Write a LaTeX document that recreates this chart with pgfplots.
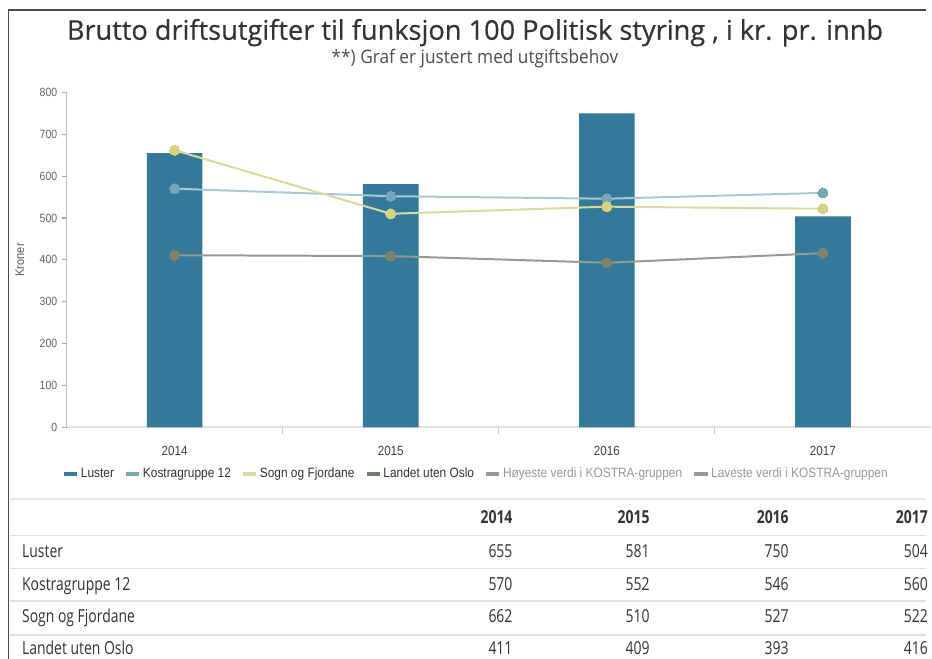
\documentclass[border=0pt]{standalone}
\usepackage{pgfplots}
\pgfplotsset{compat=1.18}
\usepackage{fontspec}
\setmainfont{Liberation Sans}
\newfontfamily\osans[FakeStretch=0.78]{Open Sans}
\newfontfamily\tsans[FakeBold=0.4]{Open Sans}
\newfontfamily\ssans[FakeStretch=0.93]{Open Sans}
\newfontfamily\lsans[FakeStretch=0.88]{Liberation Sans}
\definecolor{luster}{RGB}{53,121,154}
\definecolor{kostraL}{RGB}{168,200,214}
\definecolor{kostraM}{RGB}{120,165,185}
\definecolor{sognL}{RGB}{218,218,160}
\definecolor{sognM}{RGB}{214,210,130}
\definecolor{landetL}{RGB}{150,155,145}
\definecolor{landetM}{RGB}{128,131,108}
\definecolor{landetLeg}{RGB}{112,128,111}
\definecolor{txt}{RGB}{51,51,51}
\begin{document}
\begin{tikzpicture}
\begin{scope}[x=0.75pt,y=-0.75pt]
\useasboundingbox (0,0) rectangle (932,663);
\fill[white] (0,0) rectangle (932,663);
\draw[draw=black!70, line width=1.1pt] (8.5,663) -- (8.5,10) -- (932,10);
\node[anchor=base, text=txt, font=\tsans\fontsize{20.5}{25}\selectfont] at (478,40)
  {Brutto driftsutgifter til funksjon 100 Politisk styring , i kr. pr. innb};
\node[anchor=base, text=black!70, font=\ssans\fontsize{14}{16}\selectfont] at (478,64)
  {**) Graf er justert med utgiftsbehov};
% table
\draw[black!10, line width=1.5pt] (10,502) -- (932,502);
\foreach \yy in {539,572,605,639} \draw[black!12, line width=1.1pt] (10,\yy) -- (932,\yy);
\begin{scope}[every node/.style={font=\osans\fontsize{13.5}{16}\selectfont, text=txt, inner sep=0pt}]
\node[anchor=base east, font=\osans\bfseries\fontsize{13.5}{16}\selectfont] at (516,527) {2014};
\node[anchor=base east, font=\osans\bfseries\fontsize{13.5}{16}\selectfont] at (654,527) {2015};
\node[anchor=base east, font=\osans\bfseries\fontsize{13.5}{16}\selectfont] at (794,527) {2016};
\node[anchor=base east, font=\osans\bfseries\fontsize{13.5}{16}\selectfont] at (934,527) {2017};
\node[anchor=base west] at (22,561) {Luster};
\node[anchor=base east] at (516,561) {655};
\node[anchor=base east] at (654,561) {581};
\node[anchor=base east] at (794,561) {750};
\node[anchor=base east] at (934,561) {504};
\node[anchor=base west] at (22,594) {Kostragruppe 12};
\node[anchor=base east] at (516,594) {570};
\node[anchor=base east] at (654,594) {552};
\node[anchor=base east] at (794,594) {546};
\node[anchor=base east] at (934,594) {560};
\node[anchor=base west] at (22,627) {Sogn og Fjordane};
\node[anchor=base east] at (516,627) {662};
\node[anchor=base east] at (654,627) {510};
\node[anchor=base east] at (794,627) {527};
\node[anchor=base east] at (934,627) {522};
\node[anchor=base west] at (22,659) {Landet uten Oslo};
\node[anchor=base east] at (516,659) {411};
\node[anchor=base east] at (654,659) {409};
\node[anchor=base east] at (794,659) {393};
\node[anchor=base east] at (934,659) {416};
\end{scope}
\end{scope}
\begin{axis}[
  scale only axis, width=652.5pt, height=252.75pt,
  at={(50.25pt,-322.5pt)}, anchor=south west,
  xmin=-0.5, xmax=3.5, ymin=0, ymax=800,
  axis x line*=bottom, axis y line*=left,
  x axis line style={draw=black!12, line width=1.5pt},
  y axis line style={draw=black!25, line width=1.2pt},
  xtick={0,1,2,3}, xticklabels={2014,2015,2016,2017},
  major x tick style={draw=none},
  minor xtick={0.5,1.5,2.5},
  minor x tick style={draw=black!20, line width=0.8pt},
  minor tick length=5pt,
  ytick={0,100,...,800},
  tick align=outside, major tick length=3.5pt,
  y tick style={draw=black!35, line width=0.8pt},
  /pgf/number format/assume math mode=true,
  yticklabel style={font=\lsans\fontsize{9}{10}\selectfont, text=black!60},
  xticklabel style={font=\lsans\fontsize{10}{11}\selectfont, text=black!75, yshift=-7pt},
  ylabel={Kroner},
  ylabel style={at={(axis description cs:-0.054,0.5)}, anchor=center,
    font=\lsans\fontsize{9.5}{11}\selectfont, text=black!65},
  legend image code/.code={\draw[#1] (0pt,0pt) -- (10pt,0pt);},
  legend columns=-1,
  legend style={at={(axis description cs:-0.005,-0.1395)}, anchor=west,
    draw=none, fill=none, inner sep=0pt,
    font=\lsans\fontsize{10.2}{12}\selectfont, text=black!80,
    nodes={inner sep=1.5pt},
    /tikz/every even column/.append style={column sep=6.5pt}},
]
\addplot[ybar, bar width=42pt, fill=luster, draw=none, forget plot]
  coordinates {(0,655) (1,581) (2,750) (3,504)};
\addplot[kostraL, line width=1.5pt, mark=*, mark size=3.8pt,
  mark options={fill=kostraM, draw=kostraM, line width=0pt}, forget plot]
  coordinates {(0,570) (1,552) (2,546) (3,560)};
\addplot[sognL, line width=1.5pt, mark=*, mark size=3.8pt,
  mark options={fill=sognM, draw=sognM, line width=0pt}, forget plot]
  coordinates {(0,662) (1,510) (2,527) (3,522)};
\addplot[landetL, line width=1.5pt, mark=*, mark size=3.8pt,
  mark options={fill=landetM, draw=landetM, line width=0pt}, forget plot]
  coordinates {(0,411) (1,409) (2,393) (3,416)};
\addlegendimage{line width=2.4pt, draw=luster}
\addlegendentry{Luster}
\addlegendimage{line width=2.4pt, draw=kostraM}
\addlegendentry{Kostragruppe 12}
\addlegendimage{line width=2.4pt, draw=sognL}
\addlegendentry{Sogn og Fjordane}
\addlegendimage{line width=2.4pt, draw=landetLeg}
\addlegendentry{Landet uten Oslo}
\addlegendimage{line width=2.4pt, draw=black!40}
\addlegendentry{\textcolor{black!40}{Høyeste verdi i KOSTRA-gruppen}}
\addlegendimage{line width=2.4pt, draw=black!40}
\addlegendentry{\textcolor{black!40}{Laveste verdi i KOSTRA-gruppen}}
\end{axis}
\end{tikzpicture}
\end{document}
